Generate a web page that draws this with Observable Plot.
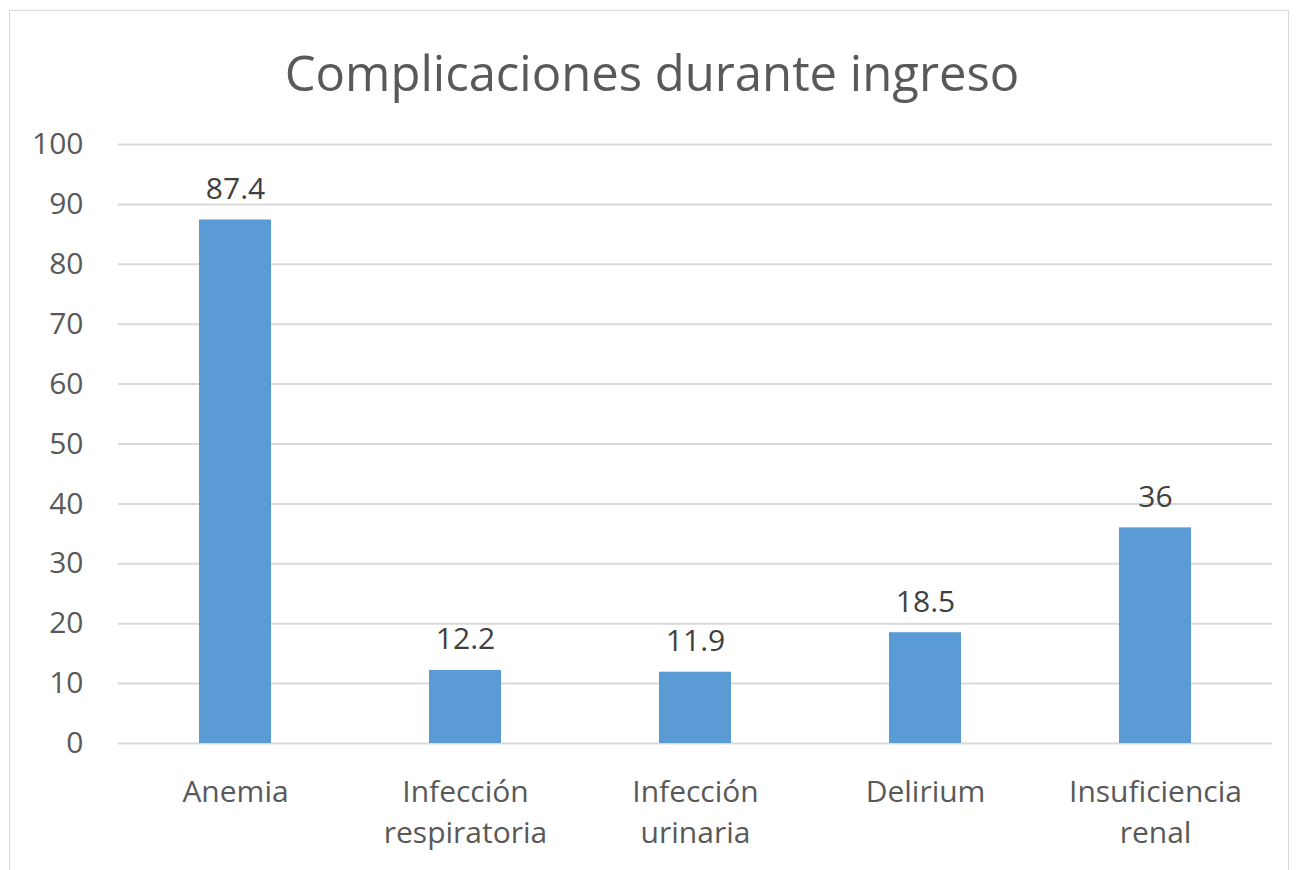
<!DOCTYPE html>
<html>
<head>
<meta charset="utf-8">
<script src="https://cdn.jsdelivr.net/npm/d3@7"></script>
<script src="https://cdn.jsdelivr.net/npm/@observablehq/plot@0.6"></script>
<style>
  html, body { margin: 0; padding: 0; background: #fff; overflow: hidden; }
  #wrap { position: relative; width: 1304px; height: 870px; overflow: hidden; font-family: "Open Sans", sans-serif; }
  #frame { position: absolute; left: 9px; top: 10px; width: 1280px; height: 900px; border: 1.5px solid #d9d9d9; box-sizing: border-box; }
  #title { position: absolute; left: 0; top: 0; width: 1304px; height: 120px; line-height: 144px; text-align: center; font-size: 49px; color: #595959; }
  #chart { position: absolute; left: 0; top: 120px; }
</style>
</head>
<body>
<div id="wrap">
  <div id="frame"></div>
  <div id="title">Complicaciones durante ingreso</div>
  <div id="chart"></div>
</div>
<script>
const categories = ["Anemia", "Infección\nrespiratoria", "Infección\nurinaria", "Delirium", "Insuficiencia\nrenal"];
const values = [87.4, 12.2, 11.9, 18.5, 36];
const valueLabels = ["87.4", "12.2", "11.9", "18.5", "36"];
const yTicks = [0, 10, 20, 30, 40, 50, 60, 70, 80, 90, 100];

const data = categories.map((c, i) => ({category: c, value: values[i], label: valueLabels[i]}));

const chart = Plot.plot({
  width: 1304,
  height: 750,
  marginLeft: 118,
  marginRight: 32,
  marginTop: 24,
  marginBottom: 127,
  style: { fontFamily: "Open Sans, sans-serif", color: "#595959", background: "transparent", overflow: "visible" },
  x: { domain: categories, paddingInner: 0.688, paddingOuter: 0.344, label: null },
  y: { domain: [0, 100], label: null },
  marks: [
    Plot.gridY(yTicks, { stroke: "#d9d9d9", strokeOpacity: 1, strokeWidth: 2 }),
    Plot.barY(data, { x: "category", y: "value", fill: "#5b9bd5" }),
    Plot.text(data, { x: "category", y: "value", text: "label", lineAnchor: "bottom", dy: -21, fontSize: 30, fill: "#404040" }),
    Plot.axisY(yTicks, { tickSize: 0, tickPadding: 35, fontSize: 30, fill: "#595959", label: null }),
    Plot.axisX({ tickSize: 0, tickPadding: 30, fontSize: 30, lineHeight: 1.36, fill: "#595959", label: null })
  ]
});
document.getElementById("chart").appendChild(chart);
</script>
</body>
</html>
